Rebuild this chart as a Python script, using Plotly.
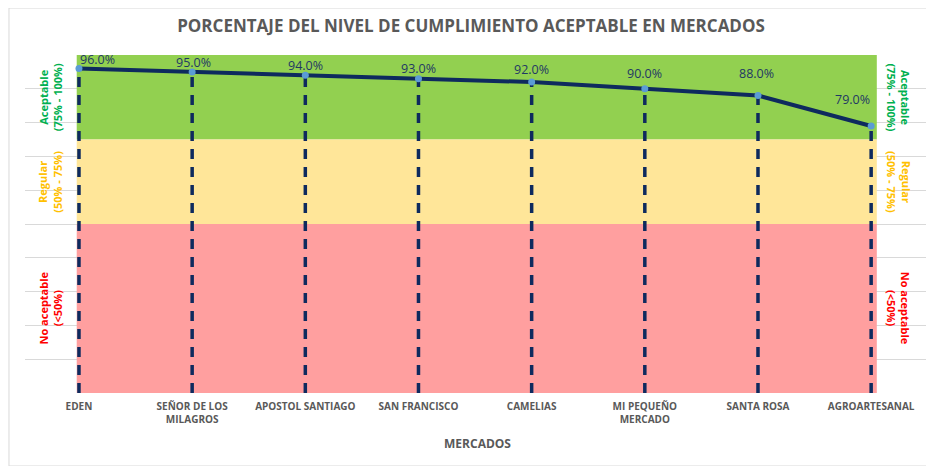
import plotly.graph_objects as go

categories = ["EDEN", "SEÑOR DE LOS<br>MILAGROS", "APOSTOL SANTIAGO", "SAN FRANCISCO",
              "CAMELIAS", "MI PEQUEÑO<br>MERCADO", "SANTA ROSA", "AGROARTESANAL"]
values = [96.0, 95.0, 94.0, 93.0, 92.0, 90.0, 88.0, 79.0]
band_low = [75, 50, 0]
band_high = [100, 75, 50]
band_colors = ["#92D050", "#FFE699", "#FF9F9F"]
band_labels = ["<b>Aceptable<br>(75% - 100%)</b>", "<b>Regular<br>(50% - 75%)</b>", "<b>No aceptable<br>(<50%)</b>"]
band_text_colors = ["#00B050", "#FFC000", "#FF0000"]
y_ticks = list(range(0, 101, 10))

# label placement offsets (style only)
label_xshift = [19, 1, 0, 0, 0, 0, -1, -19]
label_yshift = [9, 9, 10, 10, 13, 15, 22, 26]

x = list(range(len(categories)))
navy = "#0E2A5E"

fig = go.Figure()

for i, v in zip(x, values):
    fig.add_trace(go.Scatter(x=[i, i], y=[0, v], mode="lines",
                             line=dict(color=navy, width=3.5, dash="10px,8px"),
                             hoverinfo="skip", showlegend=False))

fig.add_trace(go.Scatter(
    x=x, y=values, mode="lines+markers",
    line=dict(color=navy, width=4),
    marker=dict(color="#5B9BD5", size=7),
    cliponaxis=False, showlegend=False))

shapes = []
for lo, hi, c in zip(band_low, band_high, band_colors):
    shapes.append(dict(type="rect", xref="x", yref="y", x0=-0.02, x1=7.05, y0=lo, y1=hi,
                       fillcolor=c, line=dict(width=0), layer="between"))
shapes.append(dict(type="rect", xref="paper", yref="paper", x0=-0.0177, x1=1.003, y0=-0.216, y1=1.139,
                   line=dict(color="#D9D9D9", width=1), fillcolor="rgba(0,0,0,0)", layer="above"))
fig.update_layout(shapes=shapes)

annotations = []
for i, v, xs, ys in zip(x, values, label_xshift, label_yshift):
    annotations.append(dict(x=i, y=v, xref="x", yref="y", text=f"{v:.1f}%", showarrow=False,
                            xshift=xs, yshift=ys,
                            font=dict(color="#1F3864", size=12.5, family="Open Sans")))
for lo, hi, lab, col in zip(band_low, band_high, band_labels, band_text_colors):
    mid = (lo + hi) / 2
    annotations.append(dict(x=-0.3, y=mid, xref="x", yref="y", text=lab, showarrow=False,
                            textangle=-90, xshift=5,
                            font=dict(color=col, size=11, family="Open Sans"),
                            align="center"))
    annotations.append(dict(x=7.2, y=mid, xref="x", yref="y", text=lab, showarrow=False,
                            textangle=90, xshift=5,
                            font=dict(color=col, size=11, family="Open Sans"),
                            align="center"))
fig.update_layout(annotations=annotations)

fig.update_layout(
    width=926, height=458,
    margin=dict(l=17, r=4, t=47, b=73),
    paper_bgcolor="white", plot_bgcolor="white",
    title=dict(text="<b>PORCENTAJE DEL NIVEL DE CUMPLIMIENTO ACEPTABLE EN MERCADOS</b>",
               x=0.5, xanchor="center", y=0.961, yanchor="middle",
               font=dict(size=17, color="#595959", family="Open Sans")),
    xaxis=dict(range=[-0.477, 7.52], tickvals=x,
               ticktext=[f"<b>{c}</b>" for c in categories],
               tickfont=dict(size=10, color="#595959", family="Open Sans"),
               ticklabelstandoff=6, automargin=False,
               showgrid=False, zeroline=False, showline=False, ticks="",
               title=dict(text="<b>MERCADOS</b>", font=dict(size=12, color="#595959", family="Open Sans"),
                          standoff=14)),
    yaxis=dict(range=[0, 100], tickvals=y_ticks, showticklabels=False, automargin=False,
               showgrid=True, gridcolor="#D9D9D9", gridwidth=1, zeroline=False, showline=False),
)

fig.write_html("out.html")
